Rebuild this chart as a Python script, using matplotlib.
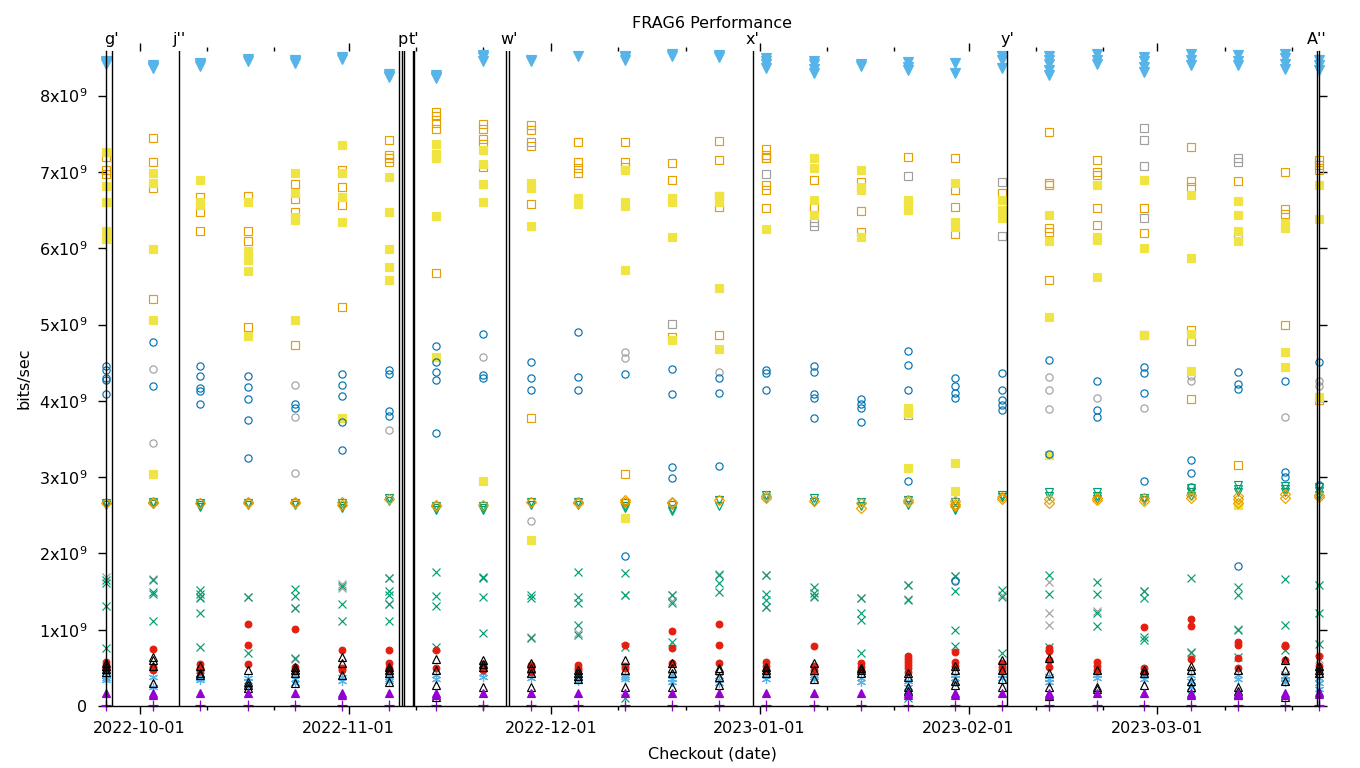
import matplotlib
matplotlib.use("Agg")
import matplotlib.pyplot as plt
import matplotlib.dates as mdates
import matplotlib.ticker as mticker
import pandas as pd

# checkout dates (one column of points per date)
checkouts = ["2022-09-26", "2022-10-03", "2022-10-10", "2022-10-17", "2022-10-24",
             "2022-10-31", "2022-11-07", "2022-11-14", "2022-11-21", "2022-11-28",
             "2022-12-05", "2022-12-12", "2022-12-19", "2022-12-26", "2023-01-02",
             "2023-01-09", "2023-01-16", "2023-01-23", "2023-01-30", "2023-02-06",
             "2023-02-13", "2023-02-20", "2023-02-27", "2023-03-06", "2023-03-13",
             "2023-03-20", "2023-03-25"]

# values in units of 1e9 bits/sec, one list per checkout
plus_purple = [[0.0, 0.01]] * 27
tri_purple = [[0.17], [0.17, 0.15], [0.17], [0.17], [0.17], [0.17, 0.15], [0.17], [0.17, 0.14],
              [0.17], [0.17], [0.17], [0.17], [0.17], [0.17], [0.17], [0.17], [0.17], [0.17, 0.15],
              [0.17, 0.15], [0.17], [0.17, 0.15], [0.17], [0.17], [0.17, 0.15], [0.17, 0.15],
              [0.17, 0.14], [0.18, 0.16]]
x_green = [[1.65, 1.61, 1.31, 0.76], [1.65, 1.49, 1.47, 1.11], [1.52, 1.47, 1.41, 1.22, 0.77],
           [1.43, 0.69], [1.54, 1.44, 1.28, 0.63], [1.57, 1.34, 1.11],
           [1.68, 1.51, 1.45, 1.34, 1.12], [1.76, 1.44, 1.31, 0.77], [1.69, 1.68, 1.43, 0.96],
           [1.46, 1.41, 0.89], [1.76, 1.43, 1.35, 1.06, 0.93], [1.74, 1.45, 0.77, 0.1],
           [1.45, 1.35, 0.84], [1.72, 1.61, 1.49], [1.72, 1.47, 1.39, 1.3], [1.56, 1.48, 1.43],
           [1.42, 1.22, 1.13, 0.69], [1.59, 1.39, 0.1], [1.7, 1.51, 1.0, 0.78],
           [1.52, 1.43, 0.69], [1.72, 1.47, 0.77], [1.63, 1.47, 1.22, 1.05],
           [1.51, 1.41, 0.9, 0.86], [1.68, 0.71, 0.14], [1.56, 1.46, 1.0, 0.64],
           [1.66, 1.06, 0.73, 0.4], [1.58, 1.22, 0.81]]
x_gray = [[1.69], [1.66], [1.43], [1.43], [1.29, 0.62], [1.6, 1.55], [1.68, 1.34], [], [],
          [0.9], [0.96], [1.46], [1.45, 1.38], [1.73], [1.72, 1.3], [1.44], [1.42], [1.59, 1.4],
          [1.7], [1.46], [1.62, 1.22, 1.06], [1.24], [1.51], [0.7], [1.01], [], [0.62]]
star_lblue = [[0.41, 0.37, 0.34], [0.38, 0.25], [0.4, 0.37, 0.34], [0.37, 0.33, 0.28],
              [0.4, 0.35, 0.3], [0.38, 0.33], [0.41, 0.36, 0.33], [0.41, 0.36], [0.43, 0.38],
              [0.4, 0.37], [0.41, 0.37, 0.33], [0.41, 0.38, 0.35], [0.41, 0.36, 0.32],
              [0.39, 0.34, 0.3], [0.4, 0.35], [0.38, 0.35], [0.37, 0.32], [0.33, 0.25, 0.2],
              [0.41, 0.37, 0.32], [0.41, 0.37], [0.39, 0.35, 0.32], [0.41, 0.37], [0.4, 0.35],
              [0.41, 0.33, 0.25], [0.41, 0.36], [0.39, 0.35, 0.31], [0.37, 0.3, 0.22]]
dot_red = [[0.58, 0.54, 0.5, 0.47], [0.75, 0.51, 0.47], [0.55, 0.5, 0.46], [1.07, 0.8, 0.55],
           [1.01, 0.51, 0.47], [0.73, 0.5, 0.47], [0.73, 0.56, 0.5, 0.47], [0.73, 0.5],
           [0.55, 0.51, 0.47], [0.54, 0.5, 0.45], [0.54, 0.5, 0.47], [0.8, 0.53, 0.5],
           [0.98, 0.76, 0.56], [1.07, 0.8, 0.56], [0.58, 0.53, 0.47], [0.79, 0.52, 0.47],
           [0.56, 0.51, 0.47], [0.66, 0.62, 0.58, 0.54, 0.5, 0.45], [0.71, 0.58, 0.53],
           [0.56, 0.51, 0.47], [0.76, 0.72, 0.6, 0.51], [0.58, 0.52, 0.47], [1.04, 0.5, 0.45],
           [1.14, 1.05, 0.62], [0.84, 0.8, 0.63, 0.5], [0.8, 0.78, 0.6], [0.66, 0.52, 0.47]]
tri_black = [[0.57, 0.52, 0.48, 0.44], [0.64, 0.6, 0.52, 0.3], [0.52, 0.43, 0.4],
             [0.47, 0.31, 0.27, 0.24], [0.51, 0.47, 0.43, 0.3], [0.64, 0.56, 0.41],
             [0.51, 0.47, 0.43, 0.31], [0.62, 0.47, 0.27, 0.12], [0.6, 0.55, 0.51, 0.25],
             [0.56, 0.5, 0.43, 0.25], [0.47, 0.43, 0.39, 0.35], [0.6, 0.47, 0.25],
             [0.57, 0.5, 0.43, 0.25], [0.5, 0.47, 0.38, 0.27], [0.51, 0.47, 0.43],
             [0.57, 0.47, 0.36], [0.5, 0.47, 0.43], [0.43, 0.38, 0.25, 0.2],
             [0.52, 0.47, 0.33, 0.27], [0.6, 0.47, 0.36, 0.25], [0.63, 0.43, 0.25, 0.13],
             [0.47, 0.25, 0.22], [0.47, 0.43, 0.27], [0.52, 0.47, 0.33, 0.25],
             [0.47, 0.25, 0.2, 0.14], [0.6, 0.47, 0.33, 0.12], [0.52, 0.47, 0.43]]
vtri_green = [[2.66, 2.64], [2.67, 2.65], [2.66, 2.63, 2.61], [2.66, 2.63], [2.66, 2.63],
              [2.66, 2.62, 2.6], [2.72, 2.69], [2.62, 2.59, 2.57], [2.62, 2.59, 2.57],
              [2.67, 2.64], [2.67, 2.64], [2.66, 2.62, 2.6], [2.63, 2.58, 2.55], [2.7, 2.62],
              [2.76, 2.72], [2.72, 2.67], [2.68, 2.62], [2.7, 2.64], [2.68, 2.6, 2.57],
              [2.77, 2.74], [2.8, 2.75], [2.8, 2.75, 2.71], [2.73, 2.7], [2.86, 2.8, 2.75],
              [2.9, 2.85, 2.8], [2.89, 2.84, 2.8], [2.87, 2.82, 2.77]]
diam_orange = [[2.66], [2.68, 2.66], [2.66], [2.68, 2.66], [2.68, 2.66], [2.67, 2.64], [2.71],
               [2.64, 2.62], [2.64], [2.68], [2.68, 2.66], [2.68, 2.7], [2.68, 2.66], [2.7],
               [2.75, 2.72], [2.69], [2.66, 2.6], [2.7, 2.68], [2.69, 2.65, 2.62],
               [2.74, 2.71], [2.71, 2.66], [2.73, 2.7], [2.72, 2.69], [2.77, 2.73],
               [2.75, 2.71, 2.66], [2.78, 2.73], [2.77, 2.74]]
circ_blue = [[4.46, 4.4, 4.3, 4.27, 4.09], [4.77, 4.19], [4.46, 4.33, 4.17, 4.13, 3.96],
             [4.33, 4.18, 4.02, 3.75, 3.25], [3.96, 3.91], [4.35, 4.21, 4.06, 3.72, 3.36],
             [4.4, 4.35, 3.87, 3.8], [4.72, 4.51, 4.38, 4.27, 3.58], [4.88, 4.34, 4.3],
             [4.51, 4.3, 4.14], [4.9, 4.31, 4.14], [4.35, 1.97], [4.42, 4.09, 3.13, 2.99],
             [4.3, 4.1, 3.14], [4.4, 4.36, 4.14], [4.46, 4.38, 4.09, 4.04, 3.77],
             [4.02, 3.96, 3.91, 3.72], [4.65, 4.47, 4.14, 2.95], [4.3, 4.19, 4.1, 4.04, 1.64],
             [4.36, 4.14, 4.01, 3.94, 3.88], [4.53, 3.3], [4.26, 3.88, 3.79],
             [4.44, 4.36, 4.1, 2.95], [3.22, 3.05, 2.87], [4.38, 4.22, 4.15, 1.84],
             [4.26, 3.07, 3.0], [4.51, 2.9]]
circ_gray = [[], [4.42, 3.45], [], [], [4.21, 3.79, 3.05], [], [3.62], [], [4.57], [2.42], [],
             [4.64, 4.56], [], [4.38], [], [], [], [], [1.65], [], [4.31, 4.14, 3.89], [4.04],
             [3.91], [4.33, 4.26], [], [3.79], [4.26, 4.19]]
sq_orange = [[7.2, 7.03, 6.97], [7.45, 7.13, 6.79, 5.34], [6.67, 6.47, 6.22],
             [6.68, 6.23, 6.09, 4.97], [6.84, 6.65, 6.48, 4.73], [7.02, 6.8, 6.56, 5.23],
             [7.42, 7.22, 7.18, 7.13], [7.79, 7.73, 7.64, 7.56, 5.68], [7.63, 7.56, 7.43, 7.36, 7.06],
             [7.61, 7.55, 7.34, 6.58, 3.77], [7.39, 7.13, 7.05, 6.98], [7.39, 7.13, 7.06, 3.04],
             [7.12, 6.89, 4.84], [7.4, 7.15, 6.68, 6.54, 4.86], [7.3, 7.22, 7.18, 6.83, 6.76, 6.53],
             [6.89, 6.54], [6.87, 6.49, 6.21], [7.2], [7.18, 6.76, 6.54, 6.19], [6.72],
             [7.52, 6.86, 6.83, 6.26, 6.21, 5.58], [7.15, 7.0, 6.96, 6.53, 6.3], [6.53, 6.2, 4.86],
             [7.33, 6.88, 6.8, 4.93, 4.78, 4.02], [6.88, 3.16], [7.0, 6.51, 6.45, 5.0],
             [7.15, 7.09, 7.02, 4.01]]
sq_yellow = [[7.26, 6.82, 6.61, 6.22, 6.12], [6.99, 6.86, 5.99, 5.06, 3.04],
             [6.89, 6.6, 6.56], [6.61, 5.97, 5.85, 5.7, 4.85], [6.99, 6.73, 6.41, 6.37, 5.06],
             [7.35, 6.98, 6.67, 6.34, 3.77], [6.93, 6.48, 5.99, 5.76, 5.59],
             [7.37, 7.24, 7.18, 6.42, 4.57], [7.29, 7.11, 6.84, 6.6, 2.95],
             [6.86, 6.79, 6.29, 2.18], [6.66, 6.58], [7.02, 6.6, 6.55, 5.71, 2.46],
             [6.66, 6.6, 6.15, 4.8], [6.68, 6.6, 5.48, 4.68], [6.25],
             [7.18, 7.05, 6.63, 6.43], [7.02, 6.8, 6.76, 6.15], [6.63, 6.57, 6.5, 3.9, 3.84, 3.12],
             [6.86, 6.34, 6.28, 3.18, 2.82], [6.63, 6.5, 6.4], [6.43, 6.1, 5.1, 3.29],
             [6.83, 6.15, 6.11, 5.62], [6.9, 6.0, 4.86], [6.7, 5.87, 4.87, 4.39],
             [6.62, 6.44, 6.22, 6.09, 2.63], [6.33, 6.26, 4.64, 4.44], [6.83, 6.38, 4.05]]
sq_gray = [[], [], [], [], [], [], [], [], [], [7.39], [], [], [5.01], [], [6.97, 7.18],
           [6.34, 6.29], [], [6.95, 3.81], [], [6.87, 6.16], [], [], [7.58, 7.42, 7.08, 6.4],
           [], [7.18, 7.13, 6.16], [], []]
vtri_lblue = [[8.42, 8.44, 8.45], [8.36, 8.38, 8.4], [8.39, 8.41, 8.43], [8.46, 8.48],
              [8.43, 8.45, 8.47], [8.48, 8.5], [8.24, 8.26, 8.28], [8.23, 8.25, 8.27],
              [8.46, 8.5, 8.53], [8.45, 8.47], [8.52], [8.47, 8.5, 8.52], [8.52, 8.54],
              [8.5, 8.53], [8.36, 8.42, 8.46, 8.49], [8.3, 8.35, 8.42, 8.45], [8.39, 8.41],
              [8.33, 8.38, 8.44], [8.3, 8.43], [8.36, 8.47, 8.52], [8.27, 8.33, 8.42, 8.47, 8.52],
              [8.42, 8.47, 8.55], [8.31, 8.38, 8.45, 8.5], [8.4, 8.47, 8.54], [8.4, 8.46, 8.53],
              [8.35, 8.42, 8.49, 8.55], [8.34, 8.4, 8.47]]

# commit markers along the top
marker_times = ["2022-09-26 20:00", "2022-10-06 19:00", "2022-11-08 12:00", "2022-11-08 23:00",
                "2022-11-09 04:00", "2022-11-10 13:00", "2022-11-10 17:00", "2022-11-24 07:00",
                "2022-11-24 19:00", "2022-12-31 00:00", "2023-02-06 17:00", "2023-03-24 17:00"]
marker_labels = ["g'", "j''", "", "p", "", "", "t'", "", "w'", "x'", "y'", "A''"]

PURPLE, GREEN, LBLUE, ORANGE = "#9400d3", "#009e73", "#56b4e9", "#e69f00"
YELLOW, BLUE, RED, GRAY = "#f0e442", "#0072b2", "#e51e10", "#a0a0a0"

dates = pd.to_datetime(checkouts)


def scatter(ax, series, marker, color, filled, ms=5.2):
    xs, ys = [], []
    for d, vals in zip(dates, series):
        for v in vals:
            xs.append(d)
            ys.append(v * 1e9)
    ax.plot(xs, ys, linestyle="none", marker=marker, ms=ms, mew=0.85, mec=color,
            mfc=color if filled else "none", clip_on=False)


fig = plt.figure(figsize=(13.6, 7.68), dpi=100)
ax = fig.add_axes([106 / 1360, 1 - 706 / 768, (1319 - 106) / 1360, 655 / 768])

scatter(ax, sq_gray, "s", GRAY, False)
scatter(ax, circ_gray, "o", GRAY, False)
scatter(ax, x_gray, "x", GRAY, False)
scatter(ax, plus_purple, "+", PURPLE, False, ms=6.5)
scatter(ax, x_green, "x", GREEN, False)
scatter(ax, star_lblue, (6, 2, 0), LBLUE, False, ms=6.5)
scatter(ax, sq_orange, "s", ORANGE, False)
scatter(ax, sq_yellow, "s", YELLOW, True)
scatter(ax, circ_blue, "o", BLUE, False)
scatter(ax, dot_red, "o", RED, True, ms=4.8)
scatter(ax, tri_black, "^", "black", False, ms=6.2)
scatter(ax, tri_purple, "^", PURPLE, True, ms=6.2)
scatter(ax, vtri_green, "v", GREEN, False, ms=6.2)
scatter(ax, vtri_lblue, "v", LBLUE, True, ms=7.2)
scatter(ax, diam_orange, "D", ORANGE, False, ms=4.6)

for t in pd.to_datetime(marker_times):
    ax.axvline(t, color="black", lw=1.0)
for t, lab in zip(pd.to_datetime(marker_times), marker_labels):
    if lab:
        ax.text(t, 1.017, lab, transform=ax.get_xaxis_transform(), ha="center",
                va="center", fontsize=11.5)

ax.set_xlim(dates[0], dates[-1])
ax.set_ylim(0, 8.585e9)

ax.xaxis.set_major_locator(mdates.MonthLocator())
ax.xaxis.set_minor_locator(mdates.DayLocator(bymonthday=[11, 21]))
ax.xaxis.set_major_formatter(mdates.DateFormatter("%Y-%m-%d"))
ax.yaxis.set_major_locator(mticker.MultipleLocator(1e9))
ax.yaxis.set_major_formatter(mticker.FuncFormatter(
    lambda v, p: "0" if v == 0 else "%dx10$^{9}$" % round(v / 1e9)))

ax.spines["top"].set_visible(False)
for s in ("left", "bottom", "right"):
    ax.spines[s].set_linewidth(1.0)
ax.tick_params(which="both", direction="out", top=True, right=True, labelsize=11.5, width=1.0)
ax.tick_params(which="major", length=5.5)
ax.tick_params(which="minor", length=3)
ax.tick_params(axis="y", pad=8)
ax.tick_params(axis="x", pad=5)

fig.text(712 / 1360, 1 - 24 / 768, "FRAG6 Performance", ha="center", va="center", fontsize=11.5)
fig.text(712 / 1360, 1 - 754 / 768, "Checkout (date)", ha="center", va="center", fontsize=11.5)
fig.text(24 / 1360, 1 - 378 / 768, "bits/sec", ha="center", va="center", rotation=90,
         fontsize=11.5)

fig.savefig("out.png", dpi=100)
